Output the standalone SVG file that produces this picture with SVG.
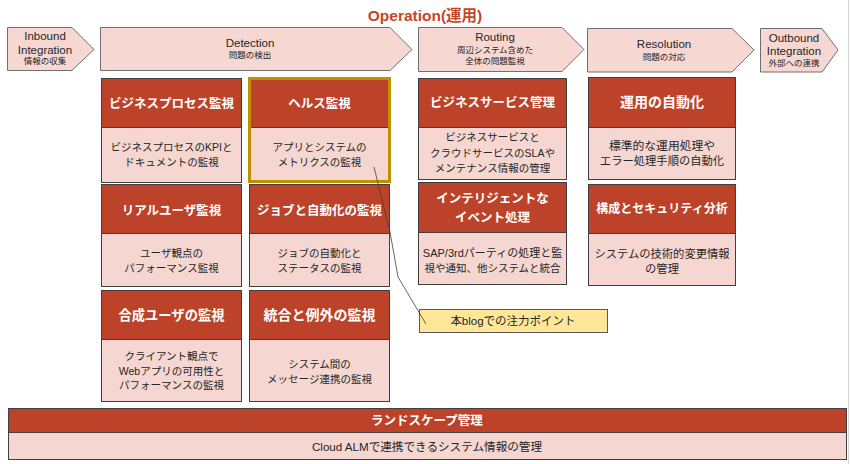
<svg xmlns="http://www.w3.org/2000/svg" width="850" height="464" viewBox="0 0 850 464">
<style>
.chev{fill:#f6d7d1;stroke:#6f6f6f;stroke-width:1}
.hd{fill:#bc4329;stroke:#3f3f3f;stroke-width:1}
.bd{fill:#f5d6d0;stroke:#3f3f3f;stroke-width:1}
.t{font-family:"Liberation Sans","Noto Sans CJK JP",sans-serif;text-anchor:middle}
.ce{font-size:11.5px;fill:#262626}
.cj{font-size:8.5px;fill:#262626}
.ht{font-size:12.5px;font-weight:bold;fill:#ffffff}
.bt{font-size:10.5px;fill:#262626}
.title{font-size:15.5px;font-weight:bold;fill:#c4462a}
.note{fill:#ffe699;stroke:#595959;stroke-width:1}
.lead{fill:none;stroke:#404040;stroke-width:0.8}
</style>
<rect x="0" y="0" width="850" height="464" fill="#ffffff"/>
<line x1="848.5" y1="0" x2="848.5" y2="464" stroke="#d4d4d4" stroke-width="1"/>

<g id="title"><text class="t title" x="425" y="21">Operation(運用)</text></g>

<g id="inbound">
<polygon class="chev" points="7.5,27.5 72,27.5 94,49.5 72,70.5 7.5,70.5"/>
<text class="t ce" x="45" y="40">Inbound</text>
<text class="t ce" x="45" y="54">Integration</text>
<text class="t cj" x="45" y="64">情報の収集</text>
</g>
<g id="detection">
<polygon class="chev" points="100.5,27.5 390,27.5 412,49.5 390,70.5 100.5,70.5"/>
<text class="t ce" x="250" y="47">Detection</text>
<text class="t cj" x="250" y="58">問題の検出</text>
</g>
<g id="routing">
<polygon class="chev" points="418.5,27.5 562,27.5 584,49.5 562,71.5 418.5,71.5"/>
<text class="t ce" x="495" y="41">Routing</text>
<text class="t cj" x="495" y="53">周辺システム含めた</text>
<text class="t cj" x="495" y="64">全体の問題監視</text>
</g>
<g id="resolution">
<polygon class="chev" points="587.5,28.5 732,28.5 754,50 732,72 587.5,72"/>
<text class="t ce" x="664" y="48">Resolution</text>
<text class="t cj" x="664" y="60">問題の対応</text>
</g>
<g id="outbound">
<polygon class="chev" points="760.5,28.5 822,28.5 838,50 822,72 760.5,72"/>
<text class="t ce" x="794" y="42">Outbound</text>
<text class="t ce" x="794" y="55">Integration</text>
<text class="t cj" x="794" y="66">外部への連携</text>
</g>

<g id="bp-monitoring">
<rect class="hd" x="101.5" y="78.5" width="140" height="49"/>
<rect class="bd" x="101.5" y="127.5" width="140" height="55"/>
<text class="t ht" x="171.5" y="107.5">ビジネスプロセス監視</text>
<text class="t bt" x="171.5" y="151">ビジネスプロセスのKPIと</text>
<text class="t bt" x="171.5" y="166">ドキュメントの監視</text>
</g>
<g id="health-monitoring">
<rect class="hd" x="249.5" y="78.5" width="140" height="49"/>
<rect class="bd" x="249.5" y="127.5" width="140" height="55"/>
<rect x="249.5" y="78.5" width="140" height="103" fill="none" stroke="#bf9000" stroke-width="3"/>
<text class="t ht" x="319.5" y="107.5">ヘルス監視</text>
<text class="t bt" x="319.5" y="151">アプリとシステムの</text>
<text class="t bt" x="319.5" y="166">メトリクスの監視</text>
</g>
<g id="real-user-monitoring">
<rect class="hd" x="101.5" y="184.5" width="140" height="49"/>
<rect class="bd" x="101.5" y="233.5" width="140" height="53"/>
<text class="t ht" x="171.5" y="214.5">リアルユーザ監視</text>
<text class="t bt" x="171.5" y="257">ユーザ観点の</text>
<text class="t bt" x="171.5" y="272">パフォーマンス監視</text>
</g>
<g id="job-automation-monitoring">
<rect class="hd" x="249.5" y="184.5" width="140" height="49"/>
<rect class="bd" x="249.5" y="233.5" width="140" height="53"/>
<text class="t ht" x="319.5" y="214.5">ジョブと自動化の監視</text>
<text class="t bt" x="319.5" y="257">ジョブの自動化と</text>
<text class="t bt" x="319.5" y="272">ステータスの監視</text>
</g>
<g id="synthetic-user-monitoring">
<rect class="hd" x="101.5" y="290.5" width="140" height="49"/>
<rect class="bd" x="101.5" y="339.5" width="140" height="62"/>
<text class="t ht" x="171.5" y="320" style="font-size:13.3px">合成ユーザの監視</text>
<text class="t bt" x="171.5" y="360">クライアント観点で</text>
<text class="t bt" x="171.5" y="374.5">Webアプリの可用性と</text>
<text class="t bt" x="171.5" y="389">パフォーマンスの監視</text>
</g>
<g id="integration-exception-monitoring">
<rect class="hd" x="249.5" y="290.5" width="140" height="49"/>
<rect class="bd" x="249.5" y="339.5" width="140" height="62"/>
<text class="t ht" x="319.5" y="320" style="font-size:14px">統合と例外の監視</text>
<text class="t bt" x="319.5" y="368">システム間の</text>
<text class="t bt" x="319.5" y="383">メッセージ連携の監視</text>
</g>
<g id="business-service-management">
<rect class="hd" x="418.5" y="78.5" width="148" height="49"/>
<rect class="bd" x="418.5" y="127.5" width="148" height="52"/>
<text class="t ht" x="492.5" y="106.5">ビジネスサービス管理</text>
<text class="t bt" x="492.5" y="141">ビジネスサービスと</text>
<text class="t bt" x="492.5" y="156.5">クラウドサービスのSLAや</text>
<text class="t bt" x="492.5" y="172">メンテナンス情報の管理</text>
</g>
<g id="intelligent-event-processing">
<rect class="hd" x="418.5" y="182.5" width="148" height="50"/>
<rect class="bd" x="418.5" y="232.5" width="148" height="52"/>
<text class="t ht" x="492.5" y="202.5">インテリジェントな</text>
<text class="t ht" x="492.5" y="221.5">イベント処理</text>
<text class="t bt" x="492.5" y="257" style="font-size:11px">SAP/3rdパーティの処理と監</text>
<text class="t bt" x="492.5" y="271.5">視や通知、他システムと統合</text>
</g>
<g id="operations-automation">
<rect class="hd" x="588.5" y="77.5" width="147" height="50"/>
<rect class="bd" x="588.5" y="127.5" width="147" height="52"/>
<text class="t ht" x="662" y="107" style="font-size:14px">運用の自動化</text>
<text class="t bt" x="662" y="149.5" style="font-size:11.8px">標準的な運用処理や</text>
<text class="t bt" x="662" y="164.5" style="font-size:11.3px">エラー処理手順の自動化</text>
</g>
<g id="config-security-analysis">
<rect class="hd" x="588.5" y="184.5" width="147" height="49"/>
<rect class="bd" x="588.5" y="233.5" width="147" height="52"/>
<text class="t ht" x="662" y="212.5" style="font-size:12px">構成とセキュリティ分析</text>
<text class="t bt" x="662" y="257.5" style="font-size:11.3px">システムの技術的変更情報</text>
<text class="t bt" x="662" y="272.5" style="font-size:11.3px">の管理</text>
</g>
<g id="landscape-management">
<rect class="hd" x="8.5" y="408.5" width="838" height="24"/>
<rect class="bd" x="8.5" y="432.5" width="838" height="27"/>
<text class="t ht" x="427" y="425">ランドスケープ管理</text>
<text class="t bt" x="427" y="450.5" style="font-size:11.6px">Cloud ALMで連携できるシステム情報の管理</text>
</g>
<g id="note">
<rect class="note" x="419.5" y="309.5" width="188" height="23"/>
<text class="t bt" x="513" y="325" style="font-size:11.5px">本blogでの注力ポイント</text>
</g>

<g id="connectors">
<polyline class="lead" points="374,167 390,232 398,277 426,324"/>
</g>
</svg>
